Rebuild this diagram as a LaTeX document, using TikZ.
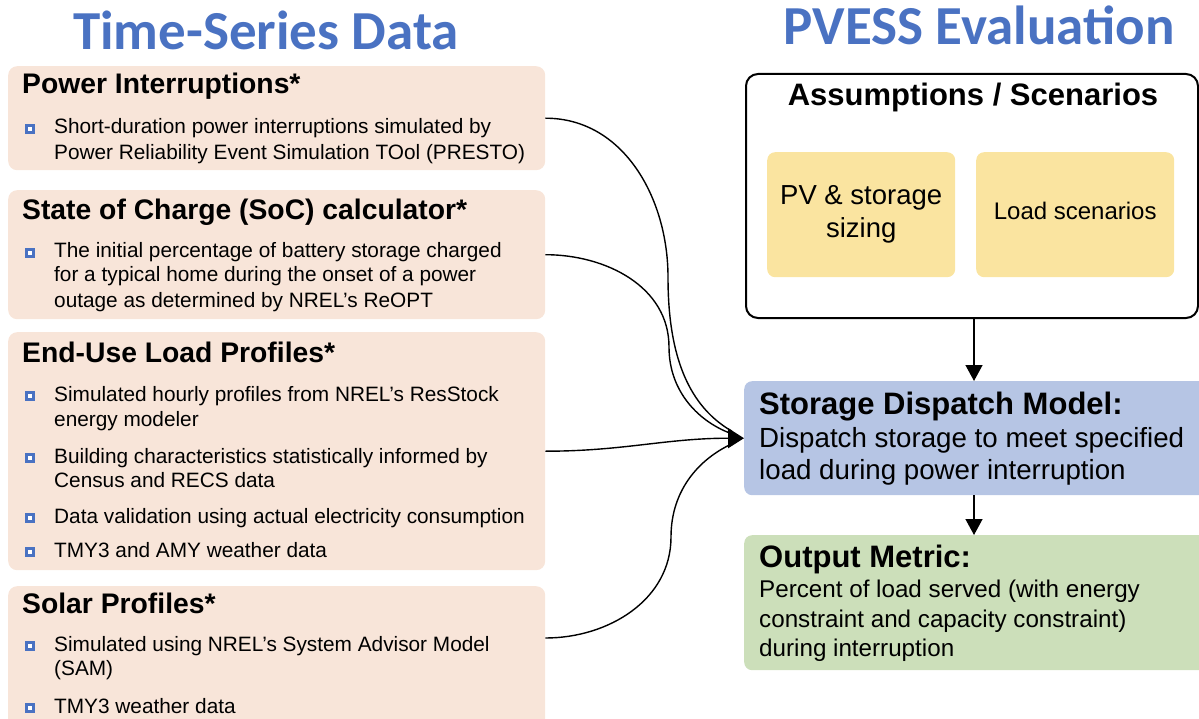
\documentclass[tikz,border=0pt]{standalone}
\usepackage{fontspec}
\setmainfont{Liberation Sans}
\newfontfamily\titlefont{Carlito}
\usetikzlibrary{arrows.meta}
\definecolor{peach}{HTML}{F8E5D9}
\definecolor{titleblue}{HTML}{4A72C2}
\definecolor{dispblue}{HTML}{B6C5E4}
\definecolor{sunyellow}{HTML}{FAE4A0}
\definecolor{metricgreen}{HTML}{CCDFBA}
\definecolor{bulletblue}{HTML}{4A72C2}
\tikzset{
  bigtitle/.style={font=\titlefont\bfseries\fontsize{55}{60}\selectfont, text=titleblue, inner sep=0pt},
  peachbox/.style={fill=peach, rounded corners=9pt, anchor=north west, inner sep=0pt},
  boxtitle/.style={font=\bfseries\fontsize{28.3}{31}\selectfont, anchor=base west, inner sep=0pt},
  bodyline/.style={font=\fontsize{20.8}{25}\selectfont, anchor=base west, inner sep=0pt},
  bul/.style={draw=bulletblue, fill=white, line width=2.6pt, minimum size=6.8pt, inner sep=0pt, rectangle},
  conn/.style={line width=1.4pt, draw=black},
  tip/.style={-{Triangle[length=16pt,width=20pt]}},
  vtip/.style={-{Triangle[length=16pt,width=17pt]}},
}
\begin{document}
\begin{tikzpicture}[x=1pt,y=-1pt]
\useasboundingbox (0,0) rectangle (1199,719);
% titles
\node[bigtitle, anchor=base] (lt) at (266,50) {Time-Series Data};
\node[bigtitle, anchor=base] (rt) at (979,45) {PVESS Evaluation};

% left boxes
\node[peachbox, minimum width=537pt, minimum height=104pt] (b1) at (8,66) {};
\node[peachbox, minimum width=537pt, minimum height=129pt] (b2) at (8,190) {};
\node[peachbox, minimum width=537pt, minimum height=238pt] (b3) at (8,332) {};
\node[peachbox, minimum width=537pt, minimum height=160pt] (b4) at (8,586) {};

% box 1
\node[boxtitle] (t1) at (22,94) {Power Interruptions*};
\node[bul] (u11) at (30,129) {};
\node[bodyline] (l11) at (54,134) {Short-duration power interruptions simulated by};
\node[bodyline] (l12) at (54,160) {Power Reliability Event Simulation TOol (PRESTO)};

% box 2
\node[boxtitle] (t2) at (22,220) {State of Charge (SoC) calculator*};
\node[bul] (u21) at (30,253) {};
\node[bodyline] (l21) at (54,258) {The initial percentage of battery storage charged};
\node[bodyline] (l22) at (54,282) {for a typical home during the onset of a power};
\node[bodyline] (l23) at (54,307) {outage as determined by NREL’s ReOPT};

% box 3
\node[boxtitle] (t3) at (22,362) {End-Use Load Profiles*};
\node[bul] (u31) at (30,396) {};
\node[bodyline] (l31) at (54,401) {Simulated hourly profiles from NREL’s ResStock};
\node[bodyline] (l32) at (54,426) {energy modeler};
\node[bul] (u32) at (30,458) {};
\node[bodyline] (l33) at (54,463) {Building characteristics statistically informed by};
\node[bodyline] (l34) at (54,487) {Census and RECS data};
\node[bul] (u33) at (30,518) {};
\node[bodyline] (l35) at (54,523) {Data validation using actual electricity consumption};
\node[bul] (u34) at (30,552) {};
\node[bodyline] (l36) at (54,557) {TMY3 and AMY weather data};

% box 4
\node[boxtitle] (t4) at (22,613) {Solar Profiles*};
\node[bul] (u41) at (30,646) {};
\node[bodyline] (l41) at (54,651) {Simulated using NREL’s System Advisor Model};
\node[bodyline] (l42) at (54,675) {(SAM)};
\node[bul] (u42) at (30,708) {};
\node[bodyline] (l43) at (54,713) {TMY3 weather data};

% right side
\node[draw=black, line width=2pt, rounded corners=12pt, anchor=north west, minimum width=452pt, minimum height=244pt, inner sep=0pt] (asm) at (745,73) {};
\node[font=\bfseries\fontsize{31}{34}\selectfont, anchor=base, inner sep=0pt] (asmt) at (973,106) {Assumptions / Scenarios};
\node[fill=sunyellow, rounded corners=8pt, anchor=north west, minimum width=188pt, minimum height=125pt, inner sep=0pt] (pv) at (767,152) {};
\node[fill=sunyellow, rounded corners=8pt, anchor=north west, minimum width=198pt, minimum height=125pt, inner sep=0pt] (ld) at (976,152) {};
\node[font=\fontsize{27.5}{34}\selectfont, align=center, inner sep=0pt] (pvt) at (pv.center) {PV \& storage\\[-1pt]sizing};
\node[font=\fontsize{24}{28}\selectfont, inner sep=0pt] (ldt) at ([yshift=4pt]ld.center) {Load scenarios};

\node[fill=dispblue, rounded corners=8pt, anchor=north west, minimum width=470pt, minimum height=114pt, inner sep=0pt] (disp) at (744,381) {};
\node[font=\bfseries\fontsize{31}{34}\selectfont, anchor=base west, inner sep=0pt] (dt) at (759,414) {Storage Dispatch Model:};
\node[font=\fontsize{27.7}{32}\selectfont, anchor=base west, inner sep=0pt] (d1) at (759,447) {Dispatch storage to meet specified};
\node[font=\fontsize{27.7}{32}\selectfont, anchor=base west, inner sep=0pt] (d2) at (759,479) {load during power interruption};

\node[fill=metricgreen, rounded corners=8pt, anchor=north west, minimum width=470pt, minimum height=135pt, inner sep=0pt] (met) at (744,535) {};
\node[font=\bfseries\fontsize{31}{34}\selectfont, anchor=base west, inner sep=0pt] (mt) at (759,567) {Output Metric:};
\node[font=\fontsize{24.2}{28}\selectfont, anchor=base west, inner sep=0pt] (m1) at (759,597) {Percent of load served (with energy};
\node[font=\fontsize{24.2}{28}\selectfont, anchor=base west, inner sep=0pt] (m2) at (759,627) {constraint and capacity constraint)};
\node[font=\fontsize{24.2}{28}\selectfont, anchor=base west, inner sep=0pt] (m3) at (759,656) {during interruption};

% vertical arrows
\coordinate (ax) at ([xshift=2pt]asm.south);
\draw[conn, vtip] (ax) -- (ax |- disp.north);
\draw[conn, vtip] (ax |- disp.south) -- (ax |- met.north);

% converging connectors
\coordinate (s4) at ([yshift=-52pt]b4.north east);
\draw[conn, shorten >=14pt] (b1.east) to[out=0,in=90] (668,277) to[out=-90,in=150] (disp.west);
\draw[conn, shorten >=14pt] (b2.east) to[out=0,in=90] (669,347) to[out=-90,in=160] (disp.west);
\draw[conn, tip] (b3.east) to[out=0,in=180] (disp.west);
\draw[conn, shorten >=14pt] (s4) to[out=0,in=-90] (671,537) to[out=90,in=-155] (disp.west);
\end{tikzpicture}
\end{document}
